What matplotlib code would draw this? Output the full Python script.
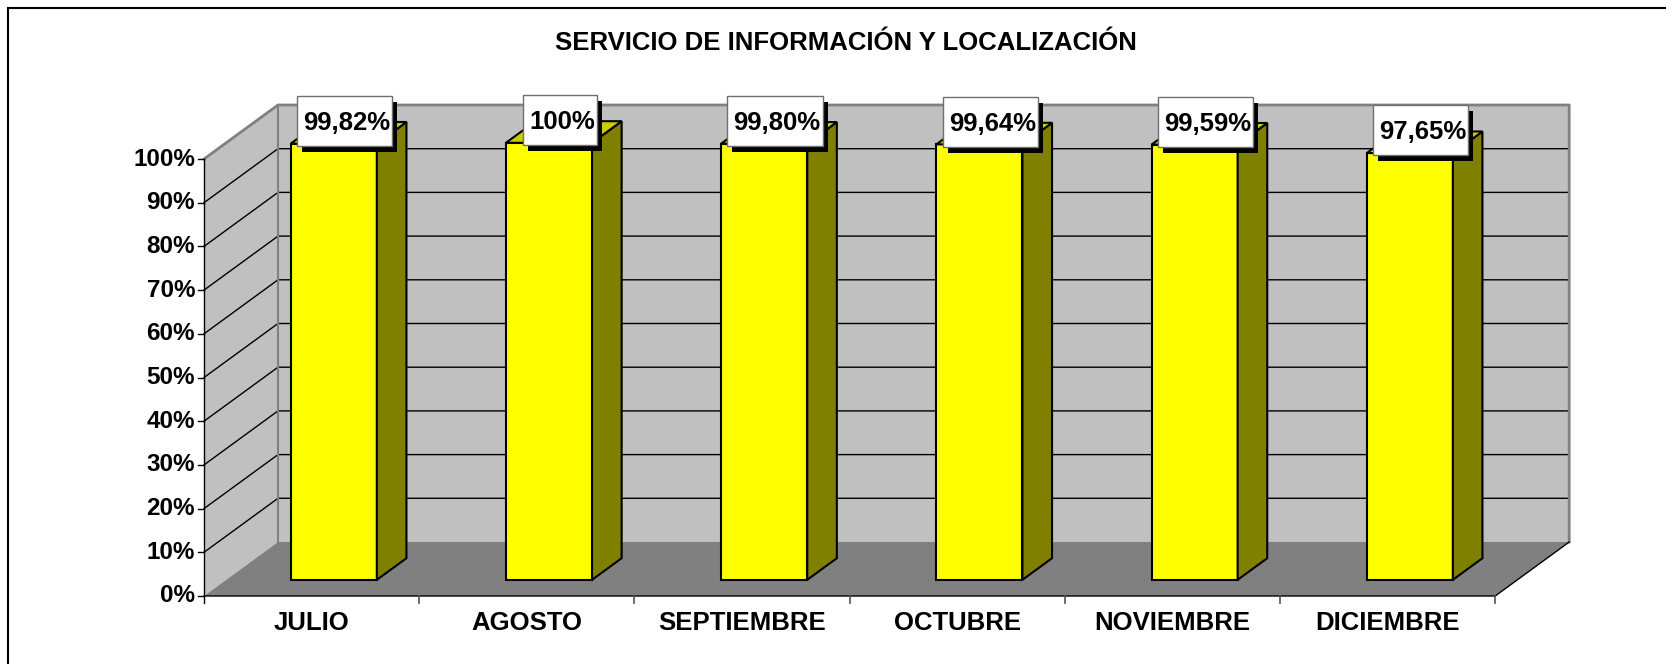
import matplotlib
matplotlib.use("Agg")
import matplotlib.pyplot as plt
from matplotlib.patches import Polygon, Rectangle

months = ["JULIO", "AGOSTO", "SEPTIEMBRE", "OCTUBRE", "NOVIEMBRE", "DICIEMBRE"]
values = [99.82, 100.0, 99.80, 99.64, 99.59, 97.65]
value_labels = ["99,82%", "100%", "99,80%", "99,64%", "99,59%", "97,65%"]
y_ticks = list(range(0, 101, 10))
title = "SERVICIO DE INFORMACIÓN Y LOCALIZACIÓN"

plt.rcParams['font.family'] = ['Liberation Sans', 'DejaVu Sans']
plt.rcParams['font.weight'] = 'bold'

W, H = 1666, 664
fig = plt.figure(figsize=(W / 100, H / 100), dpi=100)
ax = fig.add_axes([0, 0, 1, 1])

# front plane: category 0 starts at px 204, one category = 215.2 px,
# 0% at px 596, 1% = 4.37 px
x0px, cat_px, y0px, pct_px = 204, 215.2, 596, 4.37
ax.set_xlim(-x0px / cat_px, (W - x0px) / cat_px)
ax.set_ylim((y0px - H) / pct_px, y0px / pct_px)
ax.axis('off')
dx, dy = 74 / cat_px, 54 / pct_px   # full depth offset
n = len(months)
top = max(y_ticks)


def P(x, y, d):
    # point at depth fraction d (0 = front, 1 = back)
    return (x + d * dx, y + d * dy)


def poly(pts, fc, ec='none', lw=0, z=1):
    ax.add_patch(Polygon(pts, closed=True, facecolor=fc, edgecolor=ec,
                         linewidth=lw, zorder=z))


# walls and floor
poly([P(0, 0, 0), P(0, top, 0), P(0, top, 1), P(0, 0, 1)], '#C0C0C0')
poly([P(0, 0, 1), P(0, top, 1), P(n, top, 1), P(n, 0, 1)], '#C0C0C0')
poly([P(0, 0, 0), P(n, 0, 0), P(n, 0, 1), P(0, 0, 1)], '#808080', z=2)

for t in y_ticks[1:-1]:
    ax.plot(*zip(P(0, t, 0), P(0, t, 1), P(n, t, 1)), color='black', lw=1, zorder=1.5)
ax.plot(*zip(P(0, top, 0), P(0, top, 1), P(n, top, 1), P(n, 0, 1)),
        color='#808080', lw=2, zorder=1.6)
ax.plot(*zip(P(0, 0, 1), P(0, top, 1)), color='#808080', lw=1.5, zorder=1.6)

# axes lines and ticks
tick_y = -7 / pct_px
ax.plot([0, 0], [tick_y, top], color='black', lw=1, zorder=3)
ax.plot(*zip(P(0, 0, 0), P(n, 0, 0), P(n, 0, 1)), color='black', lw=1, zorder=3)
for t in y_ticks:
    ax.plot([-6 / cat_px, 0], [t, t], color='black', lw=1, zorder=3)
    ax.annotate(f"{t}%", xy=(0, t), xytext=(-9, 0), textcoords='offset pixels',
                ha='right', va='center', fontsize=17.5, fontweight='bold')
for k in range(1, n + 1):
    ax.plot([k, k], [0, tick_y], color='#505050', lw=1.2, zorder=3)
for i, m in enumerate(months):
    ax.annotate(m, xy=(i + 0.5, 0), xytext=(0, -27), textcoords='offset pixels',
                ha='center', va='center', fontsize=18.5, fontweight='bold')

# bars
for i, v in enumerate(values):
    a, b = i + 0.3, i + 0.7
    poly([P(a, 0, 0.3), P(b, 0, 0.3), P(b, v, 0.3), P(a, v, 0.3)],
         '#FFFF00', 'black', 1.5, z=4)
    poly([P(b, 0, 0.3), P(b, 0, 0.7), P(b, v, 0.7), P(b, v, 0.3)],
         '#808000', 'black', 1.5, z=4)
    poly([P(a, v, 0.3), P(b, v, 0.3), P(b, v, 0.7), P(a, v, 0.7)],
         '#CCCC00', 'black', 1.5, z=4)

# data labels with shadowed boxes
texts = []
for i, (v, lab) in enumerate(zip(values, value_labels)):
    anchor = P(i + 0.5, v, 0.5)
    t = ax.annotate(lab, xy=anchor, xytext=(-2, 3),
                    textcoords='offset pixels', ha='center', va='baseline',
                    fontsize=18.5, fontweight='bold', zorder=12)
    texts.append((t, anchor))

fig.canvas.draw()
r = fig.canvas.get_renderer()
inv = ax.transData.inverted()
for t, anchor in texts:
    bb = t.get_window_extent(r)
    cx, cy = ax.transData.transform(anchor)
    cy += 12
    bh = 50
    for off, fc, ec, z in [((5, -6), 'black', 'none', 10), ((0, 0), 'white', '#707070', 11)]:
        (x0, y0), (x1, y1) = inv.transform([(bb.x0 - 6 + off[0], cy - bh / 2 + off[1]),
                                            (bb.x1 + 2 + off[0], cy + bh / 2 + off[1])])
        ax.add_patch(Rectangle((x0, y0), x1 - x0, y1 - y0, facecolor=fc,
                               edgecolor=ec, lw=1, zorder=z))

# title and chart border
fig.text(846 / W, 1 - 43.5 / H, title, ha='center', va='center',
         fontsize=18.5, fontweight='bold')
fig.patches.append(Rectangle((8 / W, -0.1), 1.2, 1.1 - 8 / H, transform=fig.transFigure,
                             fill=False, edgecolor='black', lw=1.5))

fig.savefig('out.png', dpi=100)
